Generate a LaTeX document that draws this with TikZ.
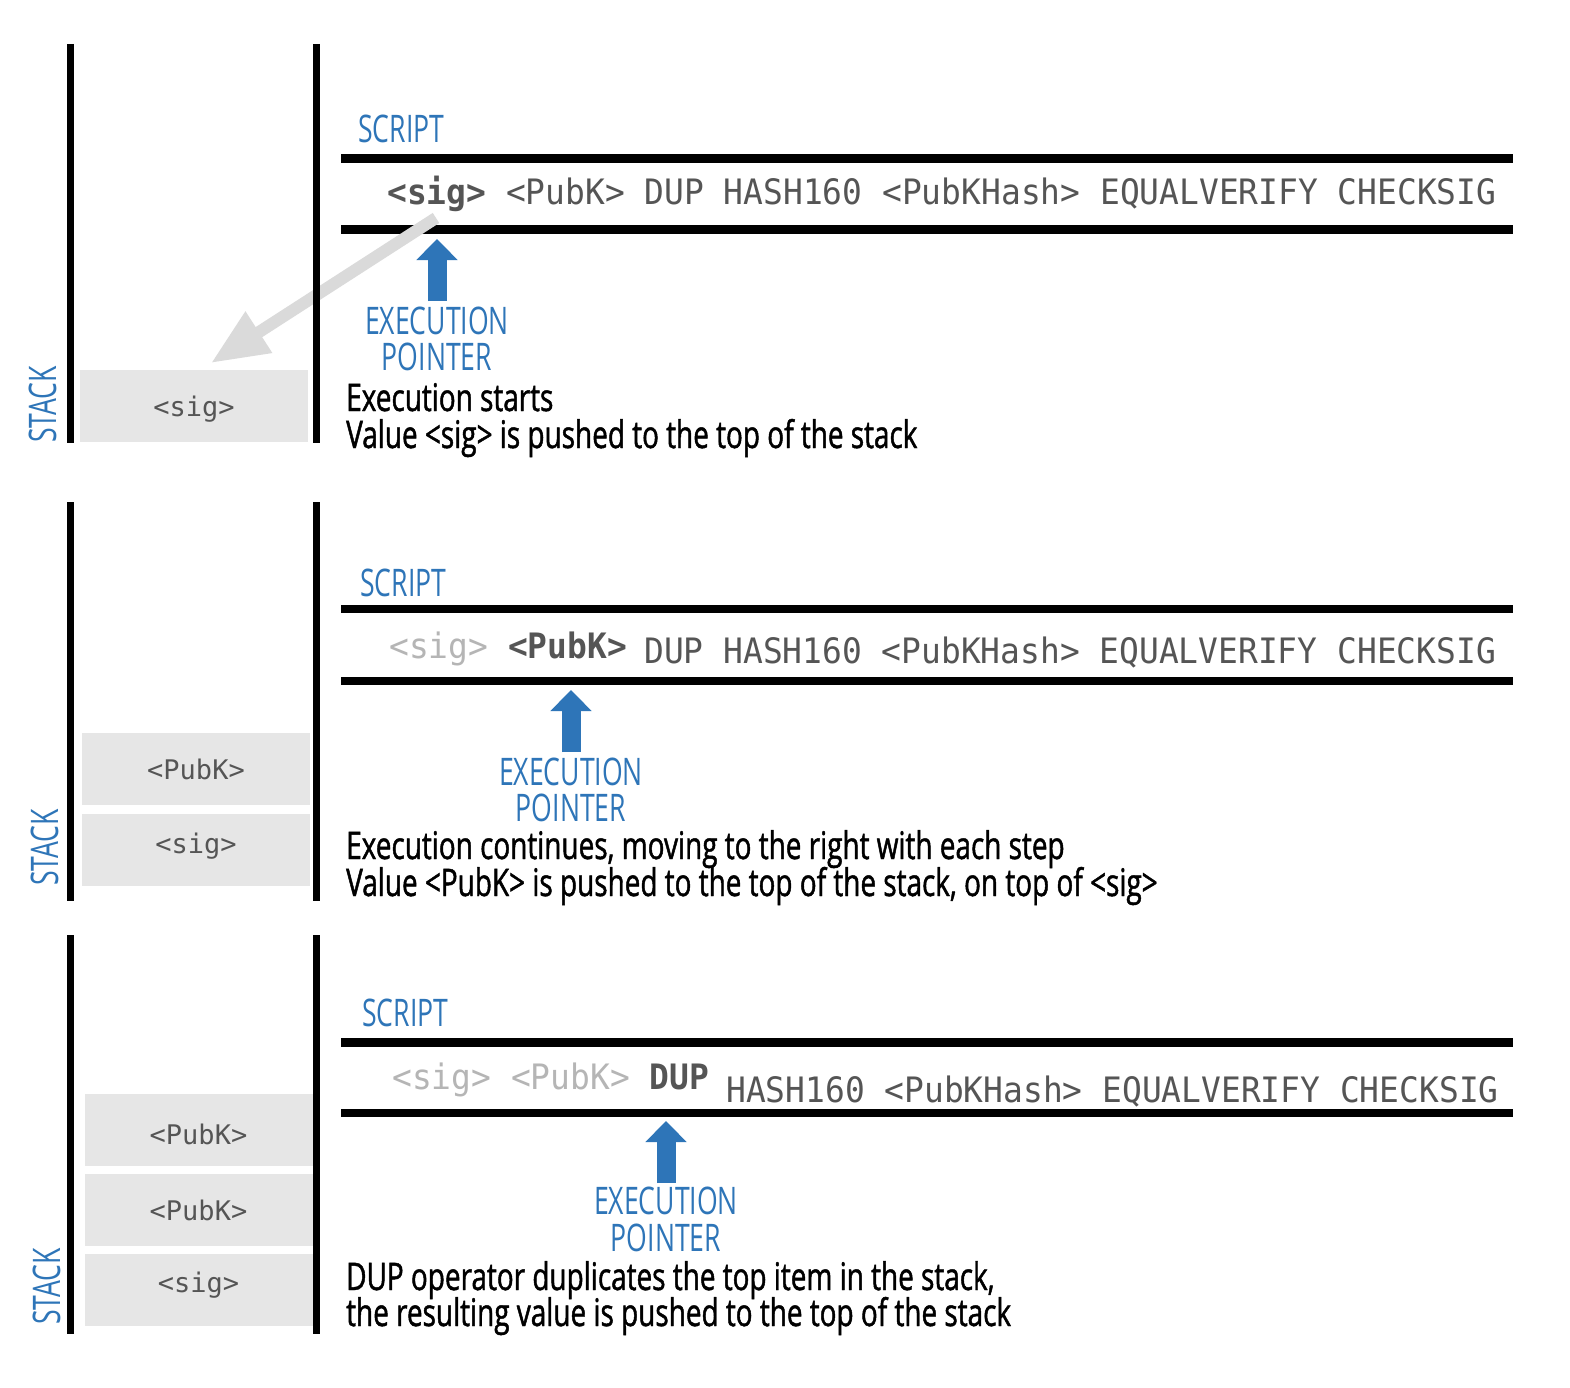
\documentclass[tikz,border=0pt]{standalone}
\usepackage{fontspec}
\usetikzlibrary{arrows.meta}
\newfontfamily\narrowsans[FakeStretch=0.7]{Open Sans}
\newfontfamily\descsans[FakeStretch=0.735,FakeBold=1.2]{Open Sans}
\newfontfamily\scriptmono[FakeStretch=0.94]{DejaVu Sans Mono}
\newfontfamily\cellmono{DejaVu Sans Mono}
\definecolor{labelblue}{HTML}{2E75B8}
\definecolor{codegray}{HTML}{555555}
\definecolor{donegray}{HTML}{B5B5B5}
\definecolor{stackfill}{HTML}{E6E6E6}
\definecolor{pushgray}{HTML}{DADADA}
\newcommand{\done}[1]{{\color{donegray}#1}}
\tikzset{
  bar/.style={line width=7pt},
  rule/.style={line width=8.5pt},
  cell/.style={fill=stackfill, draw=none, minimum width=228pt, minimum height=72pt,
    inner sep=0pt, text height=20pt, text depth=0pt,
    font=\cellmono\fontsize{27}{30}\selectfont, text=codegray},
  code/.style={anchor=base west, inner sep=0pt,
    font=\scriptmono\fontsize{35}{40}\selectfont, text=codegray},
  blue label/.style={inner sep=0pt, text=labelblue,
    font=\narrowsans\fontsize{38}{38}\selectfont},
  desc/.style={anchor=base west, inner sep=0pt, text=black,
    font=\descsans\fontsize{38}{38}\selectfont},
  pointer/.style={draw=labelblue, line width=19pt,
    -{Triangle[length=21pt,width=40pt]}},
  push/.style={draw=pushgray, line width=12pt,
    -{Triangle[length=57pt,width=46pt]}},
}
\begin{document}
\begin{tikzpicture}[x=1pt, y=-1pt]
\useasboundingbox (0,0) rectangle (1570,1388);
\fill[white] (0,0) rectangle (1570,1388);

% ---------- step 1: execution starts ----------
\draw[rule] (341,158.5) -- (1513,158.5);
\draw[rule] (341,229.5) -- (1513,229.5);
\node[blue label, anchor=base west] (s1) at (358,143) {SCRIPT};
\node[code] (c1) at (387,205) {\textbf{<sig>} <PubK> DUP HASH160 <PubKHash> EQUALVERIFY CHECKSIG};
\node[cell] (k1a) at (194,406) {<sig>};
\coordinate (g1s) at (436,218);
\coordinate (g1e) at (211,363);
\draw[push] (g1s) -- (g1e);
\draw[bar] (70.5,44) -- (70.5,443);
\draw[bar] (316.5,44) -- (316.5,443);
\node[blue label, rotate=90, anchor=base west] (st1) at (56,443) {STACK};
\coordinate (p1t) at (437,301);
\coordinate (p1h) at (437,239);
\draw[pointer] (p1t) -- (p1h);
\node[blue label, anchor=base] (e1) at (437,334) {EXECUTION};
\node[blue label, anchor=base] (q1) at (437,370) {POINTER};
\node[desc] (d1a) at (346,411) {Execution starts};
\node[desc] (d1b) at (346,448) {Value <sig> is pushed to the top of the stack};

% ---------- step 2: <PubK> pushed ----------
\draw[rule] (341,609) -- (1513,609);
\draw[rule] (341,681) -- (1513,681);
\node[blue label, anchor=base west] (s2) at (360,596) {SCRIPT};
\node[code] (c2a) at (389,658) {\done{<sig>} \textbf{<PubK>}};
\node[code] (c2b) at (644,663) {DUP HASH160 <PubKHash> EQUALVERIFY CHECKSIG};
\node[cell] (k2a) at (196,769) {<PubK>};
\node[cell] (k2b) at (196,850) {\raisebox{7pt}{<sig>}};
\draw[bar] (70.5,502) -- (70.5,901);
\draw[bar] (316.5,502) -- (316.5,901);
\node[blue label, rotate=90, anchor=base west] (st2) at (58,886) {STACK};
\coordinate (p2t) at (571,752);
\coordinate (p2h) at (571,690);
\draw[pointer] (p2t) -- (p2h);
\node[blue label, anchor=base] (e2) at (571,785) {EXECUTION};
\node[blue label, anchor=base] (q2) at (571,821) {POINTER};
\node[desc] (d2a) at (346,859) {Execution continues, moving to the right with each step};
\node[desc] (d2b) at (346,896) {Value <PubK> is pushed to the top of the stack, on top of <sig>};

% ---------- step 3: DUP ----------
\draw[rule] (341,1042.5) -- (1513,1042.5);
\draw[rule] (341,1113) -- (1513,1113);
\node[blue label, anchor=base west] (s3) at (362,1026) {SCRIPT};
\node[code] (c3a) at (392,1089) {\done{<sig> <PubK>} \textbf{DUP}};
\node[code] (c3b) at (726,1102) {HASH160 <PubKHash> EQUALVERIFY CHECKSIG};
\node[cell] (k3a) at (198.5,1130) {\raisebox{-4pt}{<PubK>}};
\node[cell] (k3b) at (198.5,1210) {<PubK>};
\node[cell] (k3c) at (198.5,1290) {\raisebox{8pt}{<sig>}};
\draw[bar] (70.5,935) -- (70.5,1334);
\draw[bar] (316.5,935) -- (316.5,1334);
\node[blue label, rotate=90, anchor=base west] (st3) at (60,1325) {STACK};
\coordinate (p3t) at (666,1183);
\coordinate (p3h) at (666,1121);
\draw[pointer] (p3t) -- (p3h);
\node[blue label, anchor=base] (e3) at (666,1214) {EXECUTION};
\node[blue label, anchor=base] (q3) at (666,1251) {POINTER};
\node[desc] (d3a) at (346,1290) {DUP operator duplicates the top item in the stack,};
\node[desc] (d3b) at (346,1326) {the resulting value is pushed to the top of the stack};
\end{tikzpicture}
\end{document}
